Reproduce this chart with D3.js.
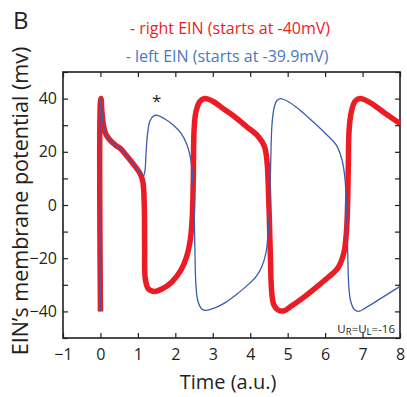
<!DOCTYPE html>
<html><head><meta charset="utf-8">
<script src="https://cdn.jsdelivr.net/npm/d3@7"></script>
<style>body{margin:0;background:#fff}svg{display:block}text{font-family:"Open Sans",sans-serif;fill:#231f20}</style>
</head><body><svg id="c" width="407" height="397"></svg>
<script>
const xTicks = [-1,0,1,2,3,4,5,6,7,8];
const yTickLabels = [-40,-20,0,20,40];
const yMinorTicks = [-50,-40,-30,-20,-10,0,10,20,30,40,50];
const rightT = [0,0,0.015,0.04,0.08,0.15,0.25,0.4,0.55,0.7,0.9,1.05,1.13,1.17,1.18,1.2,1.28,1.45,1.65,1.9,2.15,2.3,2.4,2.45,2.48,2.5,2.55,2.65,2.78,3.0,3.3,3.6,3.9,4.2,4.38,4.45,4.48,4.51,4.54,4.57,4.63,4.75,4.9,5.1,5.4,5.8,6.1,6.35,6.5,6.57,6.6,6.62,6.64,6.7,6.8,6.93,7.2,7.6,8.0];
const rightV = [-40,39,40,35,30,26.5,24.5,22.5,21,18.5,15,12,9,0,-15,-28,-31.5,-32.5,-31.5,-29,-24.5,-19.5,-13,-5,10,28,35,38.8,40,39,36,33,29.5,26,22,16,8,-5,-20,-32,-37.5,-39.5,-39.8,-38,-35,-30.5,-27,-23.5,-18,-10,0,15,28,35,39,40,38.5,34.5,30.6];
const leftT = [0,0,0.015,0.04,0.08,0.15,0.25,0.4,0.55,0.7,0.9,1.05,1.15,1.19,1.22,1.26,1.32,1.42,1.52,1.7,1.95,2.15,2.3,2.4,2.46,2.5,2.52,2.55,2.6,2.7,2.8,3.0,3.3,3.6,3.9,4.15,4.3,4.42,4.48,4.52,4.55,4.58,4.63,4.7,4.8,5.0,5.3,5.7,6.0,6.3,6.45,6.53,6.57,6.6,6.63,6.68,6.78,6.9,7.1,7.5,8.0];
const leftV = [-40,39,40,35,30,26.5,24.5,22.5,21,18.5,15,12.5,11,13,20,27,31.5,33.5,33.7,32.5,30,27,23,18,11,0,-15,-30,-36,-39,-39.6,-39,-37,-34,-30.5,-27,-23.5,-18,-10,0,18,30,36,39,40,39,36,31,27,22.5,17,10,0,-15,-30,-36,-39.3,-40,-38.5,-35,-30.6];
const legendLabels = ["- right EIN (starts at -40mV)","- left EIN (starts at -39.9mV)"];

const svg = d3.select("#c");
const L=63,R=400,T=72,B=338;
const x = d3.scaleLinear().domain([-1,8]).range([L,R]);
const y = d3.scaleLinear().domain([-50,50]).range([B,T]);
const red="#ed1c24", blue="#3c5dab";
const ink="#231f20";

svg.append("rect").attr("x",L).attr("y",T).attr("width",R-L).attr("height",B-T)
  .attr("fill","none").attr("stroke",ink).attr("stroke-width",1.6);

const tl=5;
const gxb = svg.append("g").attr("transform",`translate(0,${B})`)
  .call(d3.axisBottom(x).tickValues(xTicks).tickSizeInner(-tl).tickSizeOuter(0).tickPadding(11).tickFormat(d=>d<0?"\u2212"+Math.abs(d):d));
const gxt = svg.append("g").attr("transform",`translate(0,${T})`)
  .call(d3.axisTop(x).tickValues(xTicks).tickSizeInner(-tl).tickSizeOuter(0).tickFormat(""));
const gyl = svg.append("g").attr("transform",`translate(${L},0)`)
  .call(d3.axisLeft(y).tickValues(yMinorTicks).tickSizeInner(-tl).tickSizeOuter(0).tickPadding(6)
  .tickFormat(d=>yTickLabels.includes(d)?(d<0?"\u2212"+Math.abs(d):d):""));
const gyr = svg.append("g").attr("transform",`translate(${R},0)`)
  .call(d3.axisRight(y).tickValues(yMinorTicks).tickSizeInner(-tl).tickSizeOuter(0).tickFormat(""));
[gxb,gxt,gyl,gyr].forEach(g=>{
  g.select(".domain").remove();
  g.selectAll(".tick line").attr("stroke",ink).attr("stroke-width",1.2);
  g.selectAll(".tick text").attr("font-family","Open Sans, sans-serif").attr("font-size",16).attr("fill",ink);
});

const line = d3.line().x(d=>x(d[0])).y(d=>y(d[1])).curve(d3.curveCatmullRom.alpha(0.5));
const redData = rightT.map((t,i)=>[t,rightV[i]]);
const blueData = leftT.map((t,i)=>[t,leftV[i]]);
svg.append("path").attr("d",line(redData)).attr("fill","none").attr("stroke",red).attr("stroke-width",5.5).attr("stroke-linejoin","round");
svg.append("path").attr("d",line(blueData)).attr("fill","none").attr("stroke",blue).attr("stroke-width",1.3).attr("stroke-linejoin","round");

svg.append("text").attr("x",x(1.5)).attr("y",y(37)).attr("text-anchor","middle").attr("font-size",17).text("*");

svg.append("text").attr("x",13).attr("y",29).attr("font-size",24).text("B");

svg.append("text").attr("x",230).attr("y",34).attr("text-anchor","middle").attr("font-size",16).style("fill",red).text(legendLabels[0]);
svg.append("text").attr("x",227).attr("y",62).attr("text-anchor","middle").attr("font-size",16).style("fill","#4a78c0").text(legendLabels[1]);

svg.append("text").attr("x",228).attr("y",389).attr("text-anchor","middle").attr("font-size",20).text("Time (a.u.)");
svg.append("text").attr("transform",`translate(28,201) rotate(-90)`).attr("text-anchor","middle").attr("font-size",21.5).text("EIN\u2019s membrane potential (mv)");

const ann = svg.append("text").attr("x",395).attr("y",333).attr("text-anchor","end").attr("font-size",11.5);
ann.append("tspan").text("U");
ann.append("tspan").attr("font-size",9.5).attr("dy",2).text("R");
ann.append("tspan").attr("dy",-2).text("=U");
ann.append("tspan").attr("font-size",9.5).attr("dy",2).text("L");
ann.append("tspan").attr("dy",-2).text("=-16");
</script></body></html>
